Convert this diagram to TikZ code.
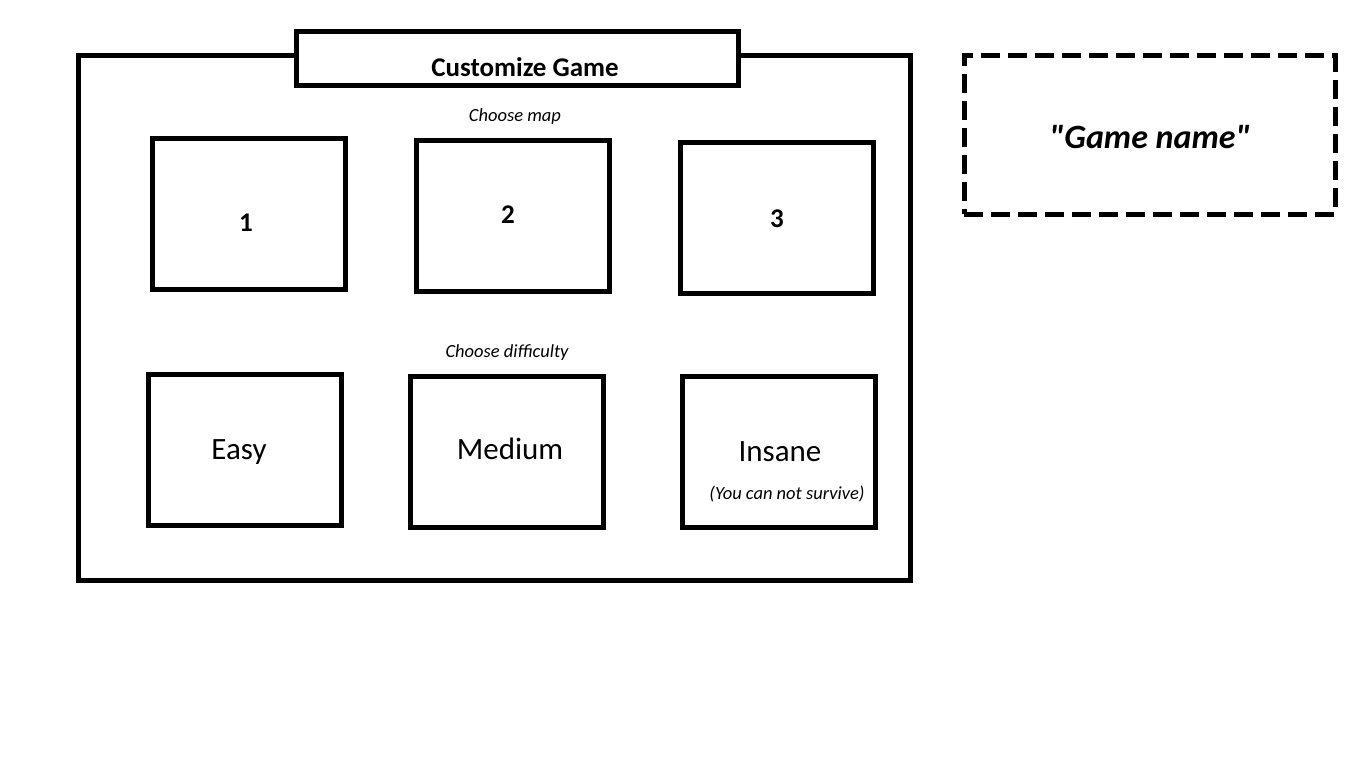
\documentclass[tikz,border=0pt]{standalone}
\usepackage{fontspec}
\setmainfont{Carlito}
\usetikzlibrary{positioning}

\begin{document}
\begin{tikzpicture}[x=1pt, y=-1pt, line width=5pt,
	frame/.style={draw, inner sep=0pt, minimum width=832pt, minimum height=524pt},
	titlebox/.style={draw, fill=white, inner sep=0pt, minimum width=442pt, minimum height=54pt},
	choice/.style={draw, inner sep=0pt, minimum width=193pt, minimum height=151pt},
	namebox/.style={draw, dash pattern=on 19pt off 8pt, inner sep=0pt, minimum width=371pt, minimum height=158pt},
	caption/.style={inner sep=0pt, font=\fontsize{18.5}{20}\selectfont\itshape},
	mapnum/.style={inner sep=0pt, font=\fontsize{27}{30}\selectfont\bfseries},
	level/.style={inner sep=0pt, font=\fontsize{31}{34}\selectfont}]
	\useasboundingbox (0,0) rectangle (1366,768);
	
	% window
	\node[frame] (window) at (494,318) {};
	\node[titlebox] (title) at (517,59) {};
	\node[inner sep=0pt, font=\fontsize{27}{30}\selectfont\bfseries] (titletext) at (525,67) {Customize Game};
	
	% maps
	\node[caption] (mapcap) at (515,117) {Choose map};
	\node[choice] (map1) at (248.5,213.5) {};
	\node[choice] (map2) at (512.5,215.5) {};
	\node[choice] (map3) at (776.5,217.5) {};
	\node[mapnum] (m1) at (246,223) {1};
	\node[mapnum] (m2) at (508,215) {2};
	\node[mapnum] (m3) at (777,219) {3};
	
	% difficulty
	\node[caption] (diffcap) at (507,353) {Choose difficulty};
	\node[choice] (easy) at (244.5,449.5) {};
	\node[choice] (medium) at (506.5,451.5) {};
	\node[choice] (insane) at (778.5,451.5) {};
	\node[level] (easytext) at (239,452) {Easy};
	\node[level] (mediumtext) at (510,449) {Medium};
	\node[level] (insanetext) at (780,452) {Insane};
	\node[caption] (warn) at (787,494) {(You can not survive)};
	
	% game name
	\node[namebox] (name) at (1149.5,135) {};
	\node[inner sep=0pt, font=\fontsize{34}{38}\selectfont\bfseries\itshape] (nametext) at (1150,137) {\textquotedbl Game name\textquotedbl};
\end{tikzpicture}
\end{document}
